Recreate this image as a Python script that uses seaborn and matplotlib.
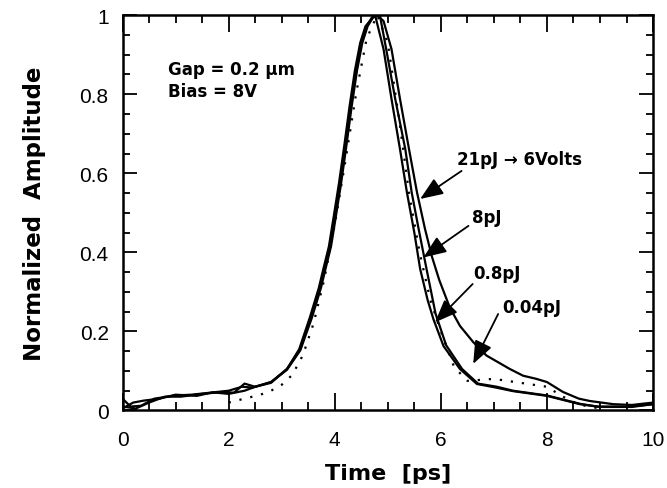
import numpy as np
import pandas as pd
import seaborn as sns
import matplotlib.pyplot as plt
from matplotlib.ticker import MultipleLocator

# outer (broadest) trace
t_21pj = [0.0, 0.15, 0.35, 0.6, 1.0, 1.3, 1.65, 2.0, 2.25, 2.45, 2.8, 3.1, 3.35, 3.55, 3.72, 3.8, 3.91, 4.0,
          4.1, 4.2, 4.3, 4.4, 4.5, 4.6, 4.7, 4.8, 4.92, 5.07, 5.23, 5.4, 5.55, 5.7, 5.83, 5.97,
          6.17, 6.36, 6.61, 6.86, 7.3, 7.55, 7.8, 8.0, 8.3, 8.6, 8.81, 9.25, 9.6, 10.0]
a_21pj = [0.03, 0.01, 0.012, 0.03, 0.038, 0.04, 0.045, 0.05, 0.06, 0.058, 0.072, 0.105, 0.155, 0.235, 0.31, 0.355, 0.415, 0.49,
          0.575, 0.67, 0.77, 0.86, 0.93, 0.972, 0.994, 1.0, 0.985, 0.914, 0.788, 0.661, 0.552, 0.46, 0.39, 0.33,
          0.26, 0.214, 0.173, 0.139, 0.105, 0.088, 0.08, 0.072, 0.047, 0.03, 0.024, 0.016, 0.014, 0.02]

# middle trace
t_8pj = [0.0, 0.2, 0.4, 0.7, 1.0, 1.4, 1.7, 2.0, 2.3, 2.5, 2.8, 3.1, 3.35, 3.57, 3.74, 3.82, 3.93, 4.02,
         4.12, 4.22, 4.32, 4.42, 4.52, 4.62, 4.72, 4.85, 4.97, 5.14, 5.33, 5.45, 5.58, 5.73, 5.9,
         6.1, 6.4, 6.7, 7.06, 7.36, 8.0, 8.62, 8.94, 9.57, 10.0]
a_8pj = [0.005, 0.02, 0.025, 0.03, 0.04, 0.037, 0.046, 0.042, 0.05, 0.06, 0.072, 0.103, 0.152, 0.235, 0.31, 0.355, 0.415, 0.49,
         0.575, 0.67, 0.77, 0.86, 0.93, 0.972, 0.994, 1.0, 0.914, 0.788, 0.661, 0.552, 0.46, 0.358, 0.245,
         0.165, 0.105, 0.068, 0.06, 0.05, 0.038, 0.017, 0.01, 0.01, 0.016]

# narrow trace
t_08pj = [0.0, 0.25, 0.5, 0.8, 1.1, 1.5, 1.9, 2.1, 2.3, 2.5, 2.8, 3.1, 3.33, 3.53, 3.7, 3.78, 3.89, 3.98,
          4.08, 4.18, 4.28, 4.38, 4.48, 4.58, 4.76, 4.92, 5.07, 5.23, 5.36, 5.5, 5.61, 5.75, 5.86,
          6.05, 6.36, 6.68, 7.0, 7.36, 8.0, 8.62, 9.0, 9.6, 10.0]
a_08pj = [0.01, 0.005, 0.02, 0.035, 0.035, 0.042, 0.047, 0.045, 0.068, 0.06, 0.07, 0.105, 0.155, 0.235, 0.31, 0.355, 0.415, 0.49,
          0.575, 0.67, 0.77, 0.86, 0.93, 0.972, 1.0, 0.914, 0.788, 0.661, 0.552, 0.45, 0.358, 0.28, 0.231,
          0.163, 0.105, 0.067, 0.059, 0.049, 0.037, 0.016, 0.009, 0.009, 0.016]

# dotted trace
t_004pj = [2.0, 2.3, 2.6, 2.8, 3.0, 3.2, 3.4, 3.6, 3.8, 4.0, 4.2, 4.4, 4.6, 4.8, 5.0, 5.2, 5.4,
           5.6, 5.8, 6.0, 6.25, 6.5, 7.0, 7.5, 8.0, 8.3, 8.6, 9.0]
a_004pj = [0.02, 0.03, 0.04, 0.05, 0.065, 0.09, 0.14, 0.22, 0.33, 0.47, 0.63, 0.8, 0.94, 1.0, 0.93, 0.75, 0.55,
           0.4, 0.28, 0.2, 0.11, 0.075, 0.08, 0.07, 0.06, 0.035, 0.015, 0.005]

x_ticks = [0, 2, 4, 6, 8, 10]
x_ticklabels = ["0", "2", "4", "6", "8", "10"]
y_ticks = [0, 0.2, 0.4, 0.6, 0.8, 1.0]
y_ticklabels = ["0", "0.2", "0.4", "0.6", "0.8", "1"]

labels = ["21pJ \u2192 6Volts", "8pJ", "0.8pJ", "0.04pJ"]
label_xy = [(6.30, 0.623), (6.58, 0.476), (6.61, 0.334), (7.15, 0.249)]
arrow_tail = [(6.39, 0.606), (6.52, 0.467), (6.60, 0.32), (7.08, 0.244)]
arrow_tip = [(5.61, 0.535), (5.67, 0.387), (5.89, 0.223), (6.61, 0.118)]

sns.set_style("ticks")
plt.rcParams['font.family'] = ['Liberation Sans', 'DejaVu Sans']
plt.rcParams['text.color'] = 'black'
plt.rcParams['axes.labelcolor'] = 'black'
plt.rcParams['xtick.color'] = 'black'
plt.rcParams['ytick.color'] = 'black'

fig = plt.figure(figsize=(6.67, 4.89), dpi=100)
ax = fig.add_axes([0.1837, 0.1585, 0.7954, 0.8085])

traces = [(t_21pj, a_21pj, "-"), (t_8pj, a_8pj, "-"), (t_08pj, a_08pj, "-"), (t_004pj, a_004pj, (0, (1, 4)))]
for t, a, ls in traces:
    df = pd.DataFrame({"t": t, "amp": a})
    sns.lineplot(data=df, x="t", y="amp", ax=ax, color="black", linewidth=1.6,
                 linestyle=ls, sort=False, estimator=None)

ax.set_xlim(0, 10)
ax.set_ylim(0, 1)
ax.set_xticks(x_ticks, labels=x_ticklabels)
ax.set_yticks(y_ticks, labels=y_ticklabels)
ax.xaxis.set_minor_locator(MultipleLocator(0.5))
ax.yaxis.set_minor_locator(MultipleLocator(0.05))
ax.tick_params(which="both", direction="in", top=True, right=True, color="black", width=1.3)
ax.tick_params(axis="x", which="major", length=12, pad=14, labelsize=15)
ax.tick_params(axis="x", which="minor", length=6)
ax.tick_params(axis="y", which="major", length=10, pad=10, labelsize=15)
ax.tick_params(axis="y", which="minor", length=5)
for s in ax.spines.values():
    s.set_linewidth(1.8)
    s.set_color("black")

ax.set_xlabel("Time  [ps]", fontsize=16, fontweight="bold", family="DejaVu Sans", labelpad=10)
ax.set_ylabel("Normalized  Amplitude", fontsize=16.5, fontweight="bold", family="DejaVu Sans", labelpad=24)

ax.text(0.863, 0.851, "Gap = 0.2 \u00b5m", fontsize=12, fontweight="bold", family="DejaVu Sans", va="baseline")
ax.text(0.863, 0.795, "Bias = 8V", fontsize=12, fontweight="bold", family="DejaVu Sans", va="baseline")

for lab, pos, tail, tip in zip(labels, label_xy, arrow_tail, arrow_tip):
    ax.text(pos[0], pos[1], lab, fontsize=12, fontweight="bold", family="DejaVu Sans", va="baseline")
    ax.annotate("", xy=tip, xytext=tail,
                arrowprops=dict(arrowstyle="-|>,head_length=1.0,head_width=0.4", color="black",
                                lw=1.3, shrinkA=0, shrinkB=0, mutation_scale=14))

fig.savefig("out.png", dpi=100)
